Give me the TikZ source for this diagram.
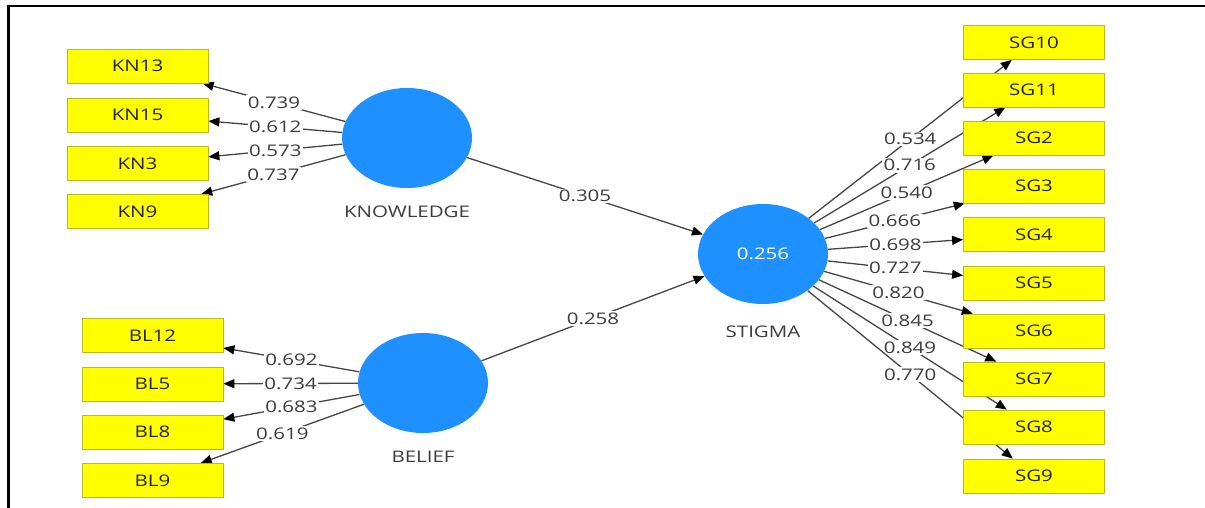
\documentclass[tikz,border=0pt]{standalone}
\usepackage{fontspec}
\setmainfont{Open Sans}[FakeStretch=1.28]
\usetikzlibrary{arrows.meta,backgrounds,shapes.geometric}
\definecolor{latblue}{RGB}{30,144,255}
\definecolor{indyellow}{RGB}{255,255,0}
\definecolor{indborder}{RGB}{185,185,40}
\definecolor{edgegray}{RGB}{70,70,70}
\definecolor{numgray}{RGB}{60,60,60}
\definecolor{txtdark}{RGB}{35,35,25}
\begin{document}
\begin{tikzpicture}[x=1pt,y=-1pt,
  ind/.style={draw=indborder, line width=0.8pt, fill=indyellow, minimum width=141pt, minimum height=34pt, inner sep=0pt, text=txtdark, font=\fontsize{16}{16}\selectfont},
  lat/.style={ellipse, fill=latblue, minimum width=130pt, minimum height=100pt, inner sep=0pt, text=white, font=\fontsize{16}{16}\selectfont},
  latlab/.style={text=numgray, inner sep=0pt, font=\fontsize{16}{16}\selectfont},
  edge/.style={draw=edgegray, line width=1.3pt, -{Triangle[length=11pt,width=9pt,color=black]}},
  wlab/.style={fill=white, inner sep=1.5pt, text=numgray, font=\fontsize{16}{16}\selectfont}]
\useasboundingbox (0,0) rectangle (1205,508);
\draw[line width=2.5pt] (8.7,508) -- (8.7,6.2) -- (1205,6.2);

% latent variables
\node[lat] (kn) at (407,138) {};
\node[latlab] (knl) at (407,212) {KNOWLEDGE};
\node[lat] (bl) at (423,383) {};
\node[latlab] (bll) at (423,457) {BELIEF};
\node[lat] (sg) at (763,254) {0.256};
\node[latlab] (sgl) at (763,332) {STIGMA};

% knowledge indicators
\node[ind] (kn13) at (137.5,66) {KN13};
\node[ind] (kn15) at (137.5,115) {KN15};
\node[ind] (kn3) at (137.5,163.5) {KN3};
\node[ind] (kn9) at (137.5,211.5) {KN9};

% belief indicators
\node[ind] (bl12) at (152.5,335.5) {BL12};
\node[ind] (bl5) at (152.5,384) {BL5};
\node[ind] (bl8) at (152.5,432) {BL8};
\node[ind] (bl9) at (152.5,480.5) {BL9};

% stigma indicators
\node[ind] (sg10) at (1034,42.5) {SG10};
\node[ind] (sg11) at (1034,90) {SG11};
\node[ind] (sg2) at (1034,138) {SG2};
\node[ind] (sg3) at (1034,186) {SG3};
\node[ind] (sg4) at (1034,234.5) {SG4};
\node[ind] (sg5) at (1034,283) {SG5};
\node[ind] (sg6) at (1034,331) {SG6};
\node[ind] (sg7) at (1034,379) {SG7};
\node[ind] (sg8) at (1034,427) {SG8};
\node[ind] (sg9) at (1034,476) {SG9};

\begin{pgfonlayer}{background}
\draw[edge] (kn) -- node[wlab]{0.739} (kn13);
\draw[edge] (kn) -- node[wlab]{0.612} (kn15);
\draw[edge] (kn) -- node[wlab]{0.573} (kn3);
\draw[edge] (kn) -- node[wlab]{0.737} (kn9);

\draw[edge] (bl) -- node[wlab]{0.692} (bl12);
\draw[edge] (bl) -- node[wlab]{0.734} (bl5);
\draw[edge] (bl) -- node[wlab]{0.683} (bl8);
\draw[edge] (bl) -- node[wlab]{0.619} (bl9);

\draw[edge] (kn) -- node[wlab]{0.305} (sg);
\draw[edge] (bl) -- node[wlab]{0.258} (sg);

\draw[edge] (sg) -- node[wlab]{0.534} (sg10);
\draw[edge] (sg) -- node[wlab]{0.716} (sg11);
\draw[edge] (sg) -- node[wlab]{0.540} (sg2);
\draw[edge] (sg) -- node[wlab]{0.666} (sg3);
\draw[edge] (sg) -- node[wlab]{0.698} (sg4);
\draw[edge] (sg) -- node[wlab]{0.727} (sg5);
\draw[edge] (sg) -- node[wlab]{0.820} (sg6);
\draw[edge] (sg) -- node[wlab]{0.845} (sg7);
\draw[edge] (sg) -- node[wlab]{0.849} (sg8);
\draw[edge] (sg) -- node[wlab]{0.770} (sg9);
\end{pgfonlayer}
\end{tikzpicture}
\end{document}
